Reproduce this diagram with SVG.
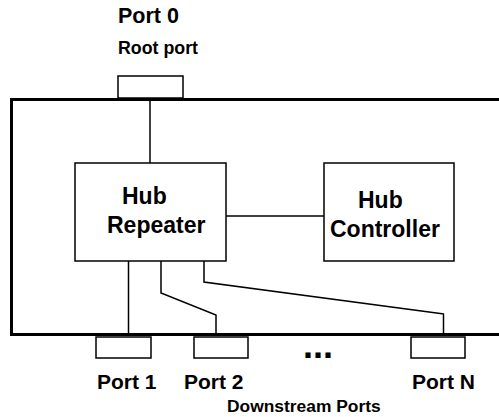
<svg xmlns="http://www.w3.org/2000/svg" width="499" height="417" viewBox="0 0 499 417">
<style>
.t{font-family:"Liberation Sans",Arial,sans-serif;font-weight:bold;fill:#000}
.box{fill:#fff;stroke:#000;stroke-width:1.5}
.ln{fill:none;stroke:#000;stroke-width:1.5}
</style>
<rect width="499" height="417" fill="#fff"/>
<g id="hub-enclosure">
<rect x="11.5" y="99.5" width="500" height="235" fill="none" stroke="#000" stroke-width="3"/>
</g>
<g id="connectors">
<line class="ln" x1="150" y1="99" x2="150" y2="163"/>
<line class="ln" x1="226" y1="216" x2="324" y2="216"/>
<line class="ln" x1="128.5" y1="261" x2="128.5" y2="334"/>
<polyline class="ln" points="161,261 161,293 216,315 216,334"/>
<polyline class="ln" points="204,261 204,282 444,314 443.5,314 443.5,334"/>
</g>
<g id="port0">
<rect class="box" x="118" y="76" width="65" height="22"/>
<text class="t" x="118" y="23" font-size="21.5">Port 0</text>
<text class="t" x="118" y="54" font-size="17.8">Root port</text>
</g>
<g id="hub-repeater">
<rect class="box" x="75" y="163" width="151" height="98"/>
<text class="t" x="122" y="204" font-size="23">Hub</text>
<text class="t" x="107" y="233" font-size="23">Repeater</text>
</g>
<g id="hub-controller">
<rect class="box" x="324" y="163" width="130" height="98"/>
<text class="t" x="358" y="208" font-size="23">Hub</text>
<text class="t" x="330" y="237" font-size="23">Controller</text>
</g>
<g id="port1">
<rect class="box" x="96" y="337" width="55" height="21"/>
<text class="t" x="97" y="389" font-size="21">Port 1</text>
</g>
<g id="port2">
<rect class="box" x="194" y="337" width="54" height="21"/>
<text class="t" x="184" y="389" font-size="21">Port 2</text>
</g>
<g id="ellipsis">
<text class="t" x="303" y="358" font-size="36">...</text>
</g>
<g id="portN">
<rect class="box" x="411" y="337" width="54" height="21"/>
<text class="t" x="412" y="389" font-size="21">Port N</text>
</g>
<g id="downstream-label">
<text class="t" x="227" y="412" font-size="17.4">Downstream Ports</text>
</g>
</svg>
